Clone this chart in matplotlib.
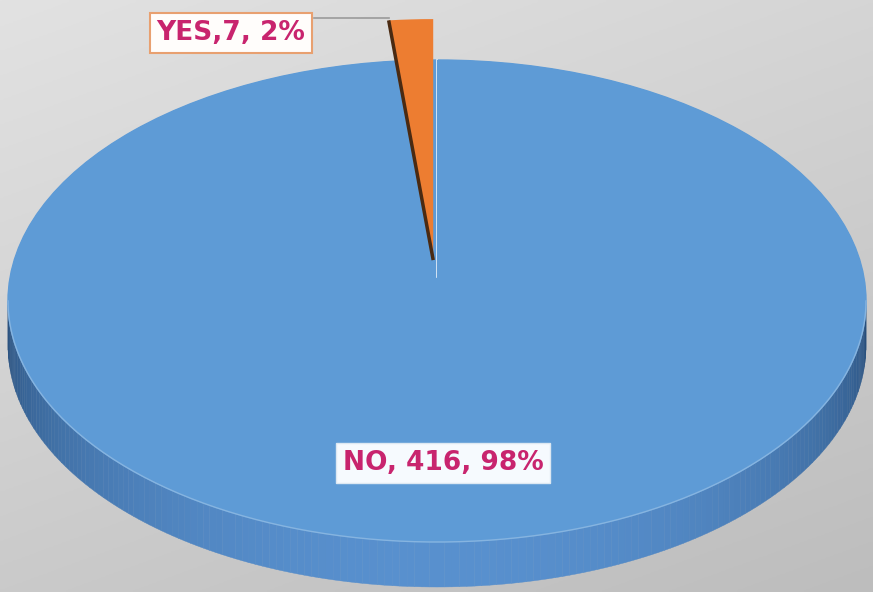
import numpy as np
import matplotlib.pyplot as plt
from matplotlib.colors import to_rgb

categories = ['YES', 'NO']
counts = [7, 416]
percents = [2, 98]
separators = [',', ', ']
colors = ['#ED7D31', '#5E9BD6']

fig = plt.figure(figsize=(8.73, 5.92), dpi=100)

# background gradient (light top-left -> darker bottom-right)
bg = fig.add_axes([0, 0, 1, 1])
gx, gy = np.meshgrid(np.linspace(0, 1, 200), np.linspace(0, 1, 200))
g = (0.35 * gx + 0.65 * gy)[..., None]
top, bot = np.array(to_rgb('#E2E2E2')), np.array(to_rgb('#BDBDBD'))
img = top + (bot - top) * g
bg.imshow(img, aspect='auto', extent=(0, 1, 0, 1))
bg.set_axis_off()

ax = fig.add_axes([0, 0, 1, 1])
ax.patch.set_alpha(0)

# pixel geometry of the ellipse (center 437,301 ; radii 429 x 241)
W, H = 873, 592
cx, cy, rx, ry = 437, 301, 429, 241
depth = 45 / ry

# side band of the pie (lower half), shaded by angle
side_mid = np.array(to_rgb('#5890CE'))
side_dark = np.array(to_rgb('#264C78'))
angs = np.linspace(np.pi, 2 * np.pi, 181)
for a0, a1 in zip(angs[:-1], angs[1:]):
    am = (a0 + a1) / 2
    f = abs(np.sin(am)) ** 0.8
    c = side_dark + (side_mid - side_dark) * f
    xs = [np.cos(a0), np.cos(a1), np.cos(a1), np.cos(a0)]
    ys = [np.sin(a0), np.sin(a1), np.sin(a1) - depth, np.sin(a0) - depth]
    ax.fill(xs, ys, color=c, lw=0.3, ec=c, zorder=1)

# full blue base so the gap left by the exploded slice stays blue
base = plt.Circle((0, 0), 1, color=colors[1], zorder=2)
ax.add_patch(base)

wedges, _ = ax.pie(counts, colors=colors, startangle=90, counterclock=True,
                   explode=[0.17, 0], wedgeprops=dict(linewidth=0))
for w in wedges:
    w.set_zorder(3)

# rim highlight along front edge
ax.plot(np.cos(angs), np.sin(angs), color='#86B4E0', lw=1.0, zorder=4)

# dark cut face on the left of the exploded slice + light line on its right
yes = wedges[0]
ox, oy = yes.center
t2 = np.deg2rad(yes.theta2)
ax.plot([ox, ox + yes.r * np.cos(t2)], [oy, oy + yes.r * np.sin(t2)],
        color='#4A2A12', lw=2.5, zorder=5, solid_capstyle='butt')
ax.plot([0.0, 0.0], [0.1, 1.0], color='#E8F0F8', lw=1.2, zorder=2.5)

ax.set_xlim(-cx / rx, (W - cx) / rx)
ax.set_ylim((cy - H) / ry, cy / ry)
ax.set_aspect('auto')
ax.set_axis_off()

labels = [f'{c}{s}{n}, {p}%' for c, s, n, p in zip(categories, separators, counts, percents)]

# YES label with leader line
ax.plot([-(cx - 314) / rx, ox + yes.r * np.cos(t2)], [(cy - 18) / ry] * 2,
        color='#9A9A9A', lw=1.2, zorder=6)
fig.text(231 / W, 1 - 33 / H, labels[0], ha='center', va='center',
         fontsize=19, fontweight='bold', family='DejaVu Sans', color='#C8246E',
         bbox=dict(boxstyle='square,pad=0.26', fc='#FFFDFB', ec='#E8A070', lw=1.5),
         zorder=7)
fig.text(443 / W, 1 - 463 / H, labels[1], ha='center', va='center',
         fontsize=19, fontweight='bold', family='DejaVu Sans', color='#C8246E',
         bbox=dict(boxstyle='square,pad=0.26', fc='#F6FAFE', ec='#DDE8F2', lw=1.0),
         zorder=7)

fig.savefig('out.png', dpi=100)
